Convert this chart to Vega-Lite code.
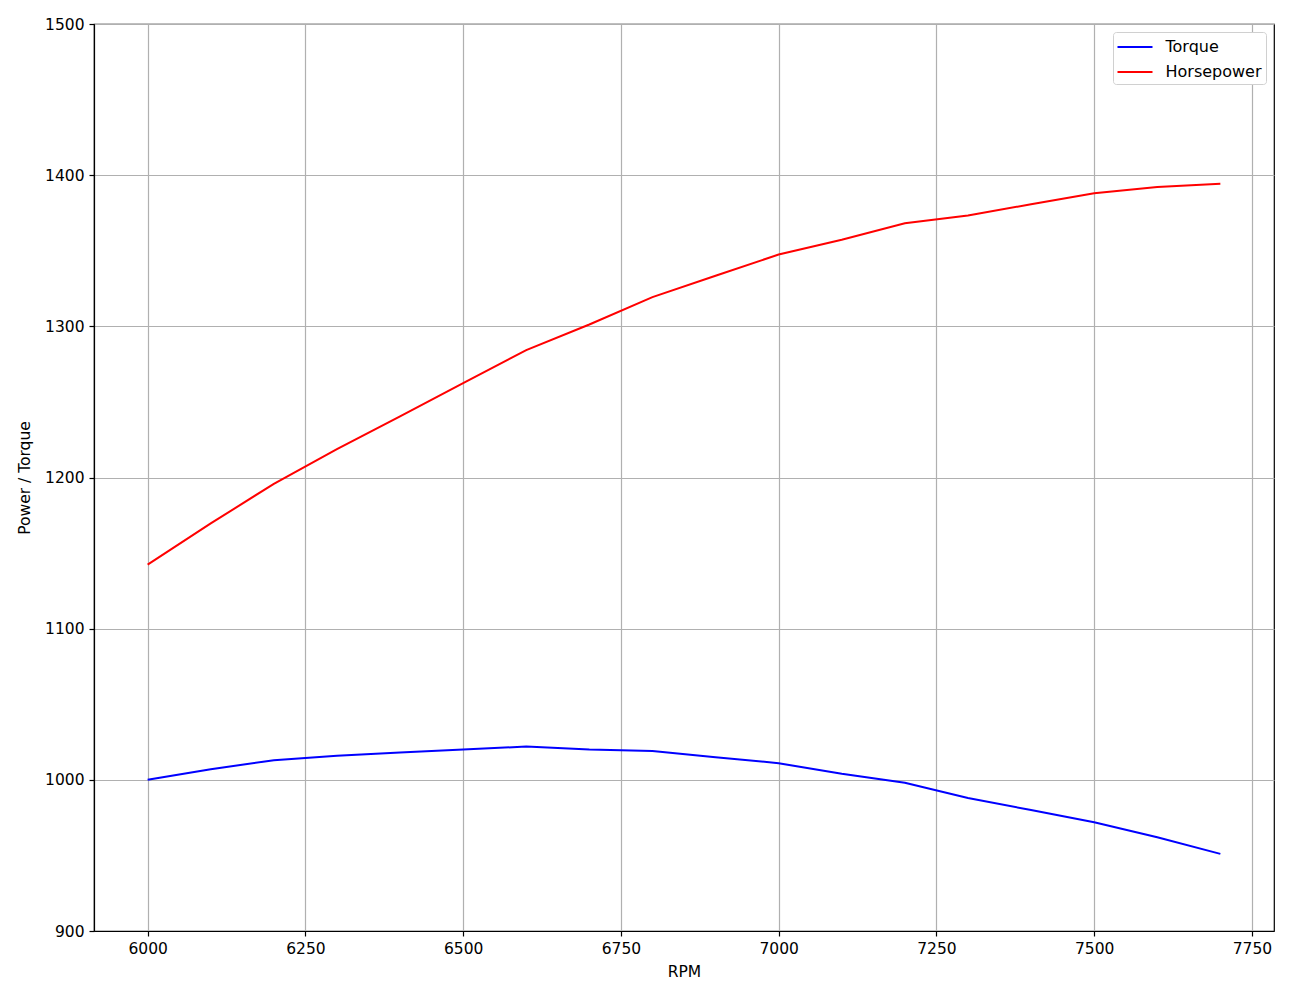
{
  "$schema": "https://vega.github.io/schema/vega-lite/v6.json",
  "autosize": {"type": "none"},
  "padding": {"left": 94, "top": 24, "right": 20, "bottom": 69},
  "width": 1180,
  "height": 907,
  "background": "white",
  "config": {
    "view": {"stroke": "black", "strokeWidth": 1.2},
    "font": "DejaVu Sans",
    "axis": {
      "labelFont": "DejaVu Sans",
      "titleFont": "DejaVu Sans",
      "labelFontSize": 15.5,
      "titleFontSize": 15.5,
      "titleFontWeight": "normal",
      "labelColor": "black",
      "titleColor": "black",
      "domainColor": "black",
      "domainWidth": 1.2,
      "tickColor": "black",
      "tickSize": 5,
      "tickWidth": 1.2,
      "gridColor": "#b0b0b0",
      "gridWidth": 1.2,
      "labelPadding": 5
    }
  },
  "data": {
    "values": [
      {"rpm": 6000, "series": "Torque", "value": 1000},
      {"rpm": 6100, "series": "Torque", "value": 1007},
      {"rpm": 6200, "series": "Torque", "value": 1013},
      {"rpm": 6300, "series": "Torque", "value": 1016},
      {"rpm": 6400, "series": "Torque", "value": 1018},
      {"rpm": 6500, "series": "Torque", "value": 1020},
      {"rpm": 6600, "series": "Torque", "value": 1022},
      {"rpm": 6700, "series": "Torque", "value": 1020},
      {"rpm": 6800, "series": "Torque", "value": 1019},
      {"rpm": 6900, "series": "Torque", "value": 1015},
      {"rpm": 7000, "series": "Torque", "value": 1011},
      {"rpm": 7100, "series": "Torque", "value": 1004},
      {"rpm": 7200, "series": "Torque", "value": 998},
      {"rpm": 7300, "series": "Torque", "value": 988},
      {"rpm": 7400, "series": "Torque", "value": 980},
      {"rpm": 7500, "series": "Torque", "value": 972},
      {"rpm": 7600, "series": "Torque", "value": 962},
      {"rpm": 7700, "series": "Torque", "value": 951},
      {"rpm": 6000, "series": "Horsepower", "value": 1142.4},
      {"rpm": 6100, "series": "Horsepower", "value": 1169.6},
      {"rpm": 6200, "series": "Horsepower", "value": 1195.8},
      {"rpm": 6300, "series": "Horsepower", "value": 1218.7},
      {"rpm": 6400, "series": "Horsepower", "value": 1240.5},
      {"rpm": 6500, "series": "Horsepower", "value": 1262.4},
      {"rpm": 6600, "series": "Horsepower", "value": 1284.3},
      {"rpm": 6700, "series": "Horsepower", "value": 1301.2},
      {"rpm": 6800, "series": "Horsepower", "value": 1319.3},
      {"rpm": 6900, "series": "Horsepower", "value": 1333.5},
      {"rpm": 7000, "series": "Horsepower", "value": 1347.5},
      {"rpm": 7100, "series": "Horsepower", "value": 1357.3},
      {"rpm": 7200, "series": "Horsepower", "value": 1368.2},
      {"rpm": 7300, "series": "Horsepower", "value": 1373.3},
      {"rpm": 7400, "series": "Horsepower", "value": 1380.8},
      {"rpm": 7500, "series": "Horsepower", "value": 1388.0},
      {"rpm": 7600, "series": "Horsepower", "value": 1392.1},
      {"rpm": 7700, "series": "Horsepower", "value": 1394.3}
    ]
  },
  "mark": {"type": "line", "strokeWidth": 2},
  "encoding": {
    "x": {
      "field": "rpm",
      "type": "quantitative",
      "title": "RPM",
      "scale": {"domain": [5915, 7785], "nice": false, "zero": false},
      "axis": {"values": [6000, 6250, 6500, 6750, 7000, 7250, 7500, 7750], "format": "d", "titlePadding": 8}
    },
    "y": {
      "field": "value",
      "type": "quantitative",
      "title": "Power / Torque",
      "scale": {"domain": [900, 1500], "nice": false, "zero": false},
      "axis": {"values": [900, 1000, 1100, 1200, 1300, 1400, 1500], "format": "d", "titlePadding": 12}
    },
    "color": {
      "field": "series",
      "type": "nominal",
      "scale": {"domain": ["Torque", "Horsepower"], "range": ["#0000ff", "#ff0000"]},
      "legend": {
        "title": null,
        "orient": "top-right",
        "offset": 8,
        "symbolType": "M-1.75,0H1.75",
        "symbolStrokeWidth": 2,
        "symbolSize": 400,
        "symbolOffset": 7,
        "labelFontSize": 16,
        "labelOffset": 19.5,
        "labelFont": "DejaVu Sans",
        "labelColor": "black",
        "fillColor": "white",
        "strokeColor": "#d0d0d0",
        "cornerRadius": 3,
        "padding": 4,
        "rowPadding": 6
      }
    }
  }
}
